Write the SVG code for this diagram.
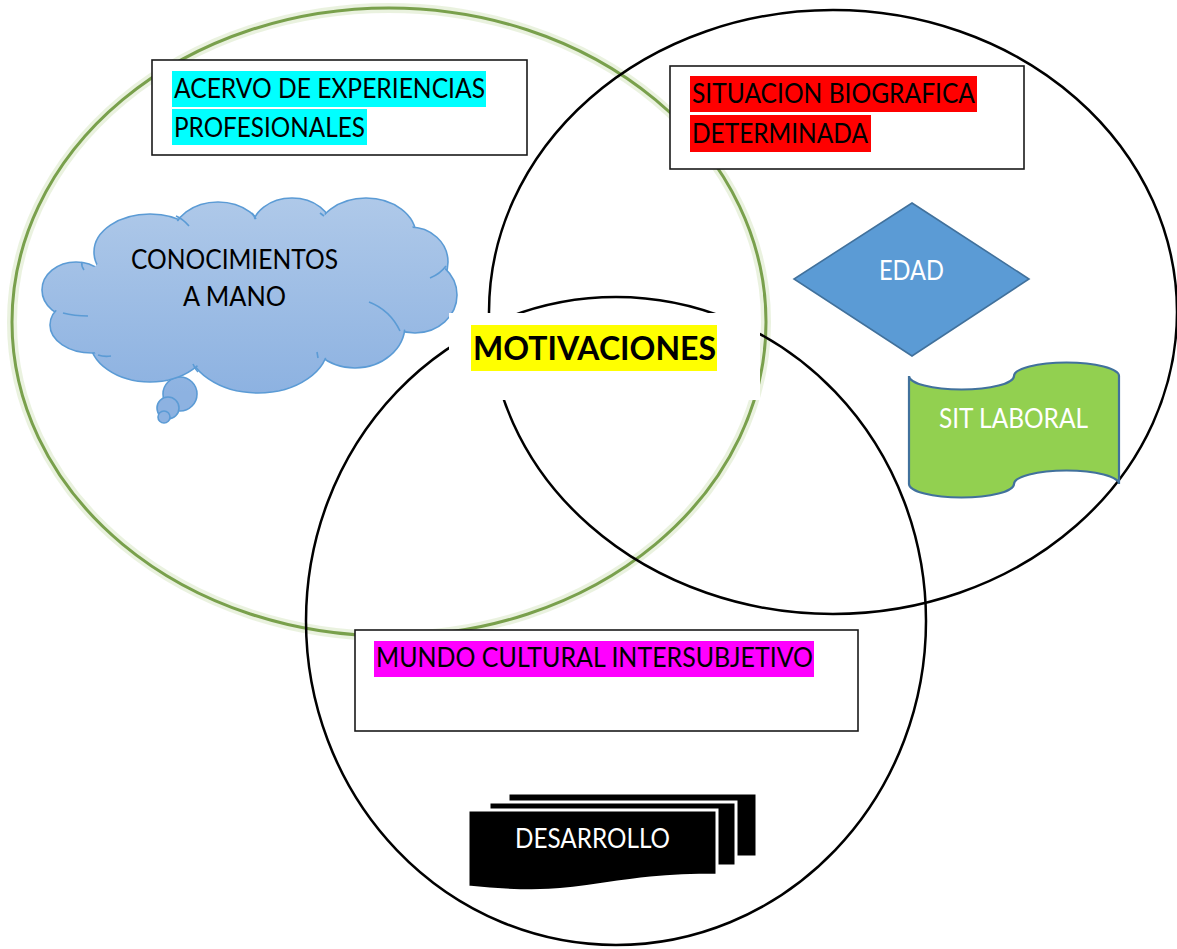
<svg xmlns="http://www.w3.org/2000/svg" width="1177" height="949" viewBox="0 0 1177 949">
<defs>
<linearGradient id="cloudGrad" gradientUnits="userSpaceOnUse" x1="0" y1="197" x2="0" y2="393">
<stop offset="0" stop-color="#afc9e9"/>
<stop offset="1" stop-color="#8db2e1"/>
</linearGradient>
<style>
.ring{fill:none;stroke:#000;stroke-width:2.5}
.box{fill:#fff;stroke:#1a1a1a;stroke-width:1.6}
.t{font-family:Lato,"Open Sans","Liberation Sans",sans-serif;font-size:26px;fill:#000}
.w{fill:#fff}
.cs{fill:url(#cloudGrad);stroke:#5b9bd5;stroke-width:1.6}
.cf{fill:url(#cloudGrad);stroke:none}
.ci{fill:none;stroke:#5b9bd5;stroke-width:1.6}
</style>
</defs>
<rect width="1177" height="949" fill="#fff"/>

<g id="circles">
<ellipse cx="389" cy="322" rx="377" ry="314" fill="none" stroke="#d6e6c0" stroke-width="10" opacity="0.5"/>
<ellipse cx="389" cy="322" rx="377" ry="314" fill="none" stroke="#79a04c" stroke-width="3"/>
<ellipse class="ring" cx="833" cy="312" rx="344" ry="302"/>
<ellipse class="ring" cx="616" cy="621" rx="310" ry="324"/>
</g>

<g id="acervo">
<rect class="box" x="152" y="60" width="375" height="95"/>
<rect x="172" y="71" width="314" height="36" fill="#00ffff"/>
<rect x="172" y="109" width="195" height="36" fill="#00ffff"/>
<text class="t" x="174" y="98" textLength="311" lengthAdjust="spacingAndGlyphs">ACERVO DE EXPERIENCIAS</text>
<text class="t" x="174" y="137" textLength="191" lengthAdjust="spacingAndGlyphs">PROFESIONALES</text>
</g>

<g id="situacion">
<rect class="box" x="670" y="66" width="354" height="103"/>
<rect x="690" y="76" width="287" height="36" fill="#ff0000"/>
<rect x="690" y="115" width="181" height="37" fill="#ff0000"/>
<text class="t" x="692" y="103" textLength="283" lengthAdjust="spacingAndGlyphs">SITUACION BIOGRAFICA</text>
<text class="t" x="692" y="143" textLength="176" lengthAdjust="spacingAndGlyphs">DETERMINADA</text>
</g>

<g id="mundo">
<rect class="box" x="355" y="630" width="503" height="101"/>
<rect x="374" y="641" width="440" height="36" fill="#ff00ff"/>
<text class="t" x="376" y="667" textLength="437" lengthAdjust="spacingAndGlyphs">MUNDO CULTURAL INTERSUBJETIVO</text>
</g>

<g id="conocimientos">
<circle class="cs" cx="180" cy="394" r="17"/>
<circle class="cs" cx="168" cy="408" r="11"/>
<circle class="cs" cx="164" cy="417" r="6"/>
<ellipse class="cs" cx="76" cy="290" rx="34" ry="28"/>
<ellipse class="cs" cx="150" cy="252" rx="56" ry="38"/>
<ellipse class="cs" cx="218" cy="236" rx="45" ry="34"/>
<ellipse class="cs" cx="292" cy="229" rx="40" ry="31"/>
<ellipse class="cs" cx="366" cy="236" rx="50" ry="38"/>
<ellipse class="cs" cx="410" cy="262" rx="38" ry="35"/>
<ellipse class="cs" cx="415" cy="295" rx="42" ry="38"/>
<ellipse class="cs" cx="355" cy="325" rx="50" ry="43"/>
<ellipse class="cs" cx="258" cy="345" rx="70" ry="48"/>
<ellipse class="cs" cx="150" cy="340" rx="60" ry="42"/>
<ellipse class="cs" cx="92" cy="325" rx="42" ry="28"/>
<ellipse class="cf" cx="76" cy="290" rx="32" ry="26"/>
<ellipse class="cf" cx="150" cy="252" rx="54" ry="36"/>
<ellipse class="cf" cx="218" cy="236" rx="43" ry="32"/>
<ellipse class="cf" cx="292" cy="229" rx="38" ry="29"/>
<ellipse class="cf" cx="366" cy="236" rx="48" ry="36"/>
<ellipse class="cf" cx="410" cy="262" rx="36" ry="33"/>
<ellipse class="cf" cx="415" cy="295" rx="40" ry="36"/>
<ellipse class="cf" cx="355" cy="325" rx="48" ry="41"/>
<ellipse class="cf" cx="258" cy="345" rx="68" ry="46"/>
<ellipse class="cf" cx="150" cy="340" rx="58" ry="40"/>
<ellipse class="cf" cx="92" cy="325" rx="40" ry="26"/>
<ellipse class="cf" cx="250" cy="295" rx="170" ry="70"/>
<path class="ci" d="M63,313 Q74,316 88,316"/>
<path class="ci" d="M400,331 Q390,310 369,302"/>
<path class="ci" d="M430,278 Q440,274 446,266"/>
<path class="ci" d="M176,216 Q183,219 189,226"/>
<path class="ci" d="M82,262 Q81,266 84,270"/>
<path class="ci" d="M98,355 Q104,357 111,356"/>
<path class="ci" d="M193,364 Q195,369 198,372"/>
<path class="ci" d="M317,352 L318,358"/>
<path class="ci" d="M256,219 L252,213"/>
<path class="ci" d="M320,213 L324,216"/>
<text class="t" x="131" y="269" textLength="207" lengthAdjust="spacingAndGlyphs">CONOCIMIENTOS</text>
<text class="t" x="183" y="306" textLength="103" lengthAdjust="spacingAndGlyphs">A MANO</text>
</g>

<g id="edad">
<polygon points="912,203 1029,279 912,356 794,279" fill="#5b9bd5" stroke="#41719c" stroke-width="1.6"/>
<text class="t w" x="879" y="280" textLength="65" lengthAdjust="spacingAndGlyphs">EDAD</text>
</g>

<g id="sitlaboral">
<path d="M909,376 A52.5,13.5 0 0 0 1014,376 A52.5,13.5 0 0 1 1119,376 L1119,484 A52.5,13.5 0 0 0 1014,484 A52.5,13.5 0 0 1 909,484 Z" fill="#92d050" stroke="#41719c" stroke-width="2.2"/>
<text class="t w" x="939" y="428" textLength="149" lengthAdjust="spacingAndGlyphs">SIT LABORAL</text>
</g>

<g id="desarrollo">
<rect x="508" y="793" width="249" height="64" fill="#000" stroke="#fff" stroke-width="3"/>
<rect x="489" y="802" width="247" height="64" fill="#000" stroke="#fff" stroke-width="3"/>
<path d="M468,810 H717 V875 C592,875 592,900 468,887 Z" fill="#000" stroke="#fff" stroke-width="3"/>
<text class="t w" x="515" y="848" textLength="155" lengthAdjust="spacingAndGlyphs">DESARROLLO</text>
</g>

<g id="motivaciones">
<rect x="449" y="313" width="311" height="87" fill="#fff"/>
<rect x="471" y="325" width="246" height="46" fill="#ffff00"/>
<text x="473" y="360" font-family="Lato,'Open Sans','Liberation Sans',sans-serif" font-size="32" font-weight="bold" fill="#000" textLength="243" lengthAdjust="spacingAndGlyphs">MOTIVACIONES</text>
</g>
</svg>
